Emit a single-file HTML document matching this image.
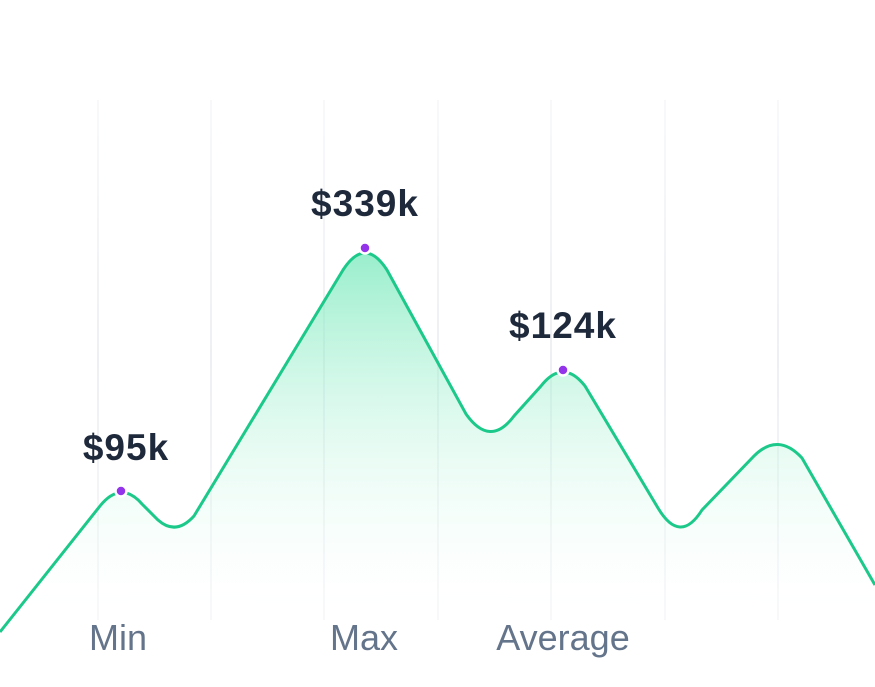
<!DOCTYPE html>
<html><head><style>html,body{margin:0;padding:0;background:#fff;}</style></head>
<body>
<svg width="875" height="687" xmlns="http://www.w3.org/2000/svg" style="display:block">
<defs>
<linearGradient id="g" x1="0" y1="240" x2="0" y2="610" gradientUnits="userSpaceOnUse">
<stop offset="0" stop-color="#6ee7b7" stop-opacity="0.75"/>
<stop offset="1" stop-color="#ecfdf5" stop-opacity="0"/>
</linearGradient>
<linearGradient id="gl" x1="0" y1="100" x2="0" y2="620" gradientUnits="userSpaceOnUse">
<stop offset="0" stop-color="#f3f4f6" stop-opacity="0.6"/>
<stop offset="0.5" stop-color="#eeeff2"/>
<stop offset="1" stop-color="#f3f4f6" stop-opacity="0.6"/>
</linearGradient>
</defs>
<g stroke="url(#gl)" stroke-width="2">
<line x1="98" y1="100" x2="98" y2="620"/><line x1="211" y1="100" x2="211" y2="620"/>
<line x1="324" y1="100" x2="324" y2="620"/><line x1="438" y1="100" x2="438" y2="620"/>
<line x1="551" y1="100" x2="551" y2="620"/><line x1="665" y1="100" x2="665" y2="620"/>
<line x1="778" y1="100" x2="778" y2="620"/>
</g>
<path d="M0,632 L100,506 Q121,480 142,504 L158,520 Q176,536 194,516 L343,270 Q365,236 387,270 L466,414 Q490,448 514,416 L541,386 Q563,358 585,386 L658,508 Q680,545 702,510 L754,456 Q778,432 802,458 L875,585 L875,687 L0,687 Z" fill="url(#g)"/>
<path d="M0,632 L100,506 Q121,480 142,504 L158,520 Q176,536 194,516 L343,270 Q365,236 387,270 L466,414 Q490,448 514,416 L541,386 Q563,358 585,386 L658,508 Q680,545 702,510 L754,456 Q778,432 802,458 L875,585" fill="none" stroke="#1cc98a" stroke-width="3"/>
<g fill="#9333ea" stroke="#fff" stroke-width="2.5">
<circle cx="121" cy="491" r="5.5"/><circle cx="365" cy="248" r="5.5"/><circle cx="563" cy="370" r="5.5"/>
</g>
<g font-family="Liberation Sans, sans-serif" font-weight="bold" font-size="37" fill="#1e293b" text-anchor="middle" letter-spacing="1">
<text x="126" y="460">$95k</text><text x="365" y="216">$339k</text><text x="563" y="338">$124k</text>
</g>
<g font-family="Liberation Sans, sans-serif" font-size="36" fill="#64748b" text-anchor="middle">
<text x="118" y="650">Min</text><text x="364" y="650">Max</text><text x="563" y="650">Average</text>
</g>
</svg>
</body></html>
